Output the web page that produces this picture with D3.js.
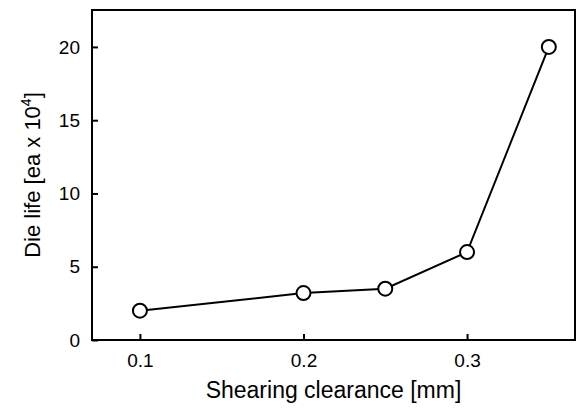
<!DOCTYPE html>
<html><head><meta charset="utf-8">
<script src="https://cdn.jsdelivr.net/npm/d3@7"></script>
<style>body{margin:0;background:#fff}svg{font-family:Arial,"Liberation Sans",sans-serif}</style>
</head><body><div id="chart"></div>
<script>
// data
const clearance = [0.1, 0.2, 0.25, 0.3, 0.35];
const dieLife = [2, 3.2, 3.5, 6, 20];
const xTicks = [0.1, 0.2, 0.3];
const yTicks = [0, 5, 10, 15, 20];

const width = 588, height = 415;
const margin = {left: 92, right: 13, top: 10, bottom: 75};

const svg = d3.select("#chart").append("svg")
   .attr("width", width).attr("height", height);

const x = d3.scaleLinear().domain([0.0707, 0.366]).range([margin.left, width - margin.right]);
const y = d3.scaleLinear().domain([0, 22.52]).range([height - margin.bottom, margin.top]);

// frame
svg.append("rect")
   .attr("x", margin.left).attr("y", margin.top)
   .attr("width", width - margin.left - margin.right)
   .attr("height", height - margin.top - margin.bottom)
   .attr("fill", "none").attr("stroke", "#000").attr("stroke-width", 2);

// axes with inward ticks
const gx = svg.append("g")
   .attr("transform", `translate(0,${height - margin.bottom})`)
   .call(d3.axisBottom(x).tickValues(xTicks).tickSize(-6).tickPadding(14).tickFormat(d3.format(".1f")));
const gy = svg.append("g")
   .attr("transform", `translate(${margin.left},0)`)
   .call(d3.axisLeft(y).tickValues(yTicks).tickSize(-6).tickPadding(12));
[gx, gy].forEach(g => {
   g.select(".domain").remove();
   g.attr("font-family", null).attr("font-size", null);
   g.selectAll("line").attr("stroke-width", 2);
   g.selectAll("text").style("font-size", "19px").attr("fill", "#000");
});

// line + markers
svg.append("path")
   .datum(clearance.map((c, i) => [c, dieLife[i]]))
   .attr("fill", "none").attr("stroke", "#000").attr("stroke-width", 2)
   .attr("d", d3.line().x(d => x(d[0])).y(d => y(d[1])));
svg.selectAll("circle.pt")
   .data(clearance.map((c, i) => [c, dieLife[i]]))
   .enter().append("circle")
   .attr("class", "pt")
   .attr("cx", d => x(d[0])).attr("cy", d => y(d[1])).attr("r", 7)
   .attr("fill", "#fff").attr("stroke", "#000").attr("stroke-width", 2);

// axis titles
svg.append("text")
   .attr("x", (margin.left + width - margin.right) / 2).attr("y", 398)
   .attr("text-anchor", "middle").style("font-size", "23px")
   .text("Shearing clearance [mm]");
const yt = svg.append("text")
   .attr("transform", `translate(40,${(margin.top + height - margin.bottom) / 2}) rotate(-90)`)
   .attr("text-anchor", "middle").style("font-size", "22px");
yt.append("tspan").text("Die life [ea x 10");
yt.append("tspan").style("font-size", "14px").attr("dy", -9).text("4");
yt.append("tspan").attr("dy", 9).text("]");
</script></body></html>
